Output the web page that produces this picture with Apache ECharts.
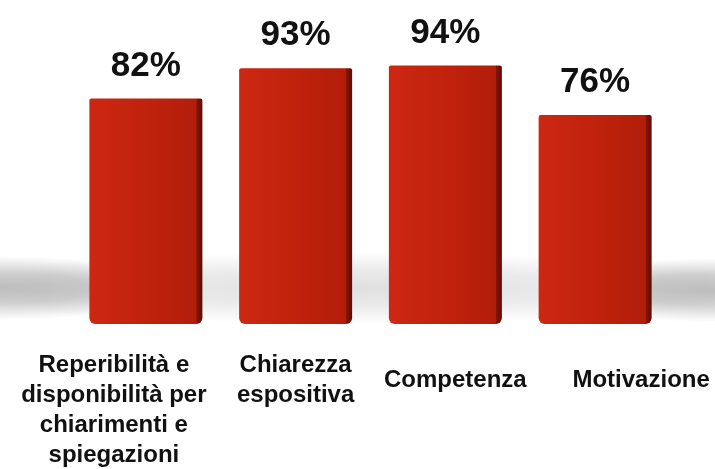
<!DOCTYPE html>
<html>
<head>
<meta charset="utf-8">
<script src="https://cdn.jsdelivr.net/npm/echarts@6/dist/echarts.min.js"></script>
<style>
  html, body { margin: 0; padding: 0; background: #fff; }
  #chart { width: 715px; height: 469px; }
</style>
</head>
<body>
<div id="chart"></div>
<script>
// dati
var categorie = [
  "Reperibilità e\ndisponibilità per\nchiarimenti e\nspiegazioni",
  "Chiarezza\nespositiva",
  "Competenza",
  "Motivazione"
];
var valori = [82, 93, 94, 76];

// spostamenti delle etichette come nell'originale
var labelPad = [
  [0, 64, 0, 0],
  [0, 0, 0, 0],
  [15, 0, 0, 20],
  [15, 0, 0, 92]
];

var myChart = echarts.init(document.getElementById("chart"));

var barColor = new echarts.graphic.LinearGradient(0, 0, 1, 0, [
  { offset: 0, color: "#cd2712" },
  { offset: 0.5, color: "#c0220c" },
  { offset: 0.945, color: "#b21d0a" },
  { offset: 0.95, color: "#861407" },
  { offset: 1, color: "#5c0c05" }
]);

function ombra(cx, cy, rx, ry, alpha) {
  return {
    type: "circle",
    z: -10,
    x: cx,
    y: cy,
    scaleX: rx / ry,
    scaleY: 1,
    shape: { cx: 0, cy: 0, r: ry },
    style: {
      fill: new echarts.graphic.RadialGradient(0.5, 0.5, 0.5, [
        { offset: 0, color: "rgba(0,0,0," + alpha + ")" },
        { offset: 0.5, color: "rgba(0,0,0," + alpha * 0.7 + ")" },
        { offset: 1, color: "rgba(0,0,0,0)" }
      ])
    },
    silent: true
  };
}

myChart.setOption({
  backgroundColor: "#ffffff",
  animation: false,
  graphic: [
    ombra(357, 288, 430, 36, 0.12),
    ombra(0, 288, 180, 32, 0.24),
    ombra(715, 290, 180, 32, 0.24)
  ],
  grid: {
    left: 71,
    right: 45,
    top: 49,
    bottom: 145,
    outerBoundsMode: "none",
    containLabel: false
  },
  xAxis: {
    type: "category",
    data: categorie.map(function (c, i) {
      return { value: c, textStyle: { padding: labelPad[i] } };
    }),
    axisLine: { show: false },
    axisTick: { show: false },
    axisLabel: {
      interval: 0,
      margin: 26,
      color: "#111",
      fontFamily: "Liberation Sans",
      fontWeight: "bold",
      fontSize: 24,
      lineHeight: 30,
      align: "center"
    }
  },
  yAxis: {
    type: "value",
    min: 0,
    max: 100,
    show: false
  },
  series: [
    {
      type: "bar",
      data: valori,
      barWidth: 113,
      itemStyle: {
        color: barColor,
        borderRadius: [2, 2, 6, 6]
      },
      label: {
        show: true,
        position: "top",
        distance: 15,
        formatter: "{c}%",
        color: "#111",
        fontFamily: "Liberation Sans",
        fontWeight: "bold",
        fontSize: 35
      }
    }
  ]
});
</script>
</body>
</html>
